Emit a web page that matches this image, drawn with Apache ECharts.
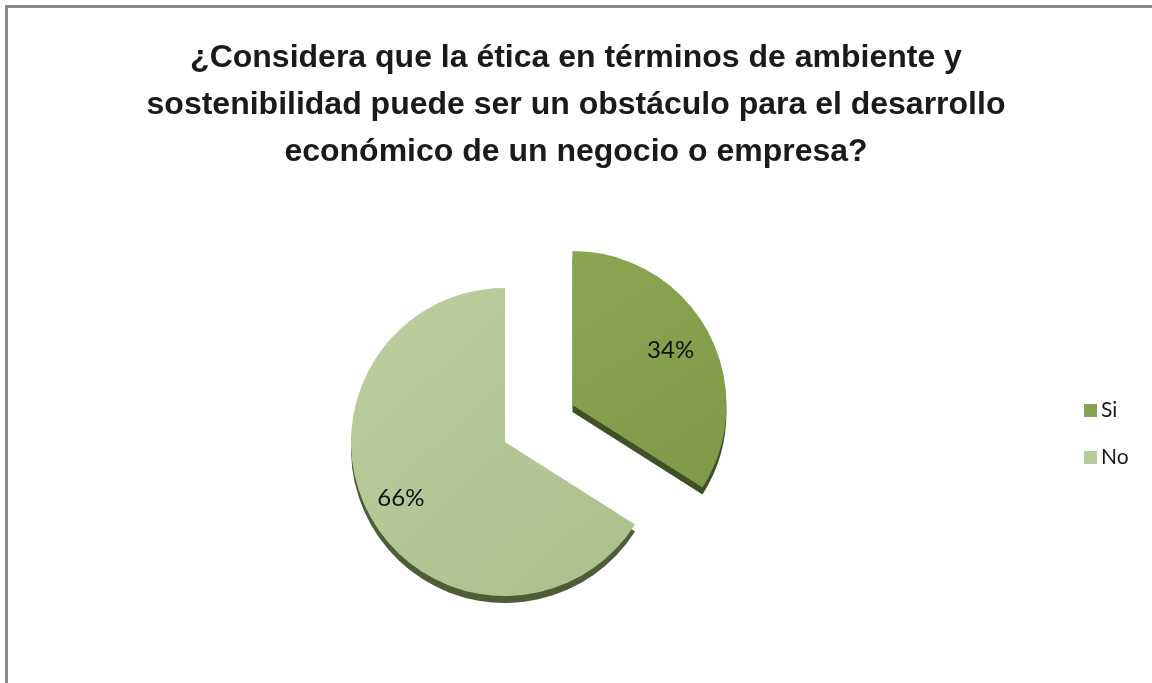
<!DOCTYPE html>
<html>
<head>
<meta charset="utf-8">
<script src="https://cdn.jsdelivr.net/npm/echarts@6/dist/echarts.min.js"></script>
<style>
  html, body { margin: 0; padding: 0; background: #ffffff; }
  #chart { width: 1152px; height: 683px; }
</style>
</head>
<body>
<div id="chart"></div>
<script>
// ---- data ----
const titleText = '¿Considera que la ética en términos de ambiente y\nsostenibilidad puede ser un obstáculo para el desarrollo\neconómico de un negocio o empresa?';
const categories = ['Si', 'No'];
const values = [34, 66];
const explodedCategory = 'Si';

// ---- styles ----
const topColors = {
  Si: { type: 'linear', x: 0, y: 0, x2: 1, y2: 1, colorStops: [{ offset: 0, color: '#8AA653' }, { offset: 1, color: '#7E9A47' }] },
  No: { type: 'linear', x: 0, y: 0, x2: 1, y2: 1, colorStops: [{ offset: 0, color: '#BCCE9E' }, { offset: 1, color: '#ABC08B' }] }
};
const edgeColors = { Si: '#3F5024', No: '#4E5C37' };
const legendColors = { Si: '#87A24F', No: '#B7CB98' };

const R = 154;
const CX = 505, CY = 442;
const OFFSET = 77;
const SHIFT = 7;

function makeData(colorMap) {
  return categories.map((c, i) => ({
    name: c,
    value: values[i],
    selected: c === explodedCategory,
    itemStyle: { color: colorMap ? colorMap[c] : 'rgba(0,0,0,0)' }
  }));
}

const chart = echarts.init(document.getElementById('chart'), null, { renderer: 'canvas' });
chart.setOption({
  animation: false,
  backgroundColor: '#ffffff',
  title: {
    text: titleText,
    left: 'center',
    top: 30,
    textStyle: {
      fontFamily: 'Liberation Sans',
      fontWeight: 'bold',
      fontSize: 32,
      lineHeight: 47,
      color: '#1a1a1a'
    }
  },
  legend: {
    orient: 'vertical',
    left: 1079,
    top: 395,
    itemWidth: 13,
    itemHeight: 13,
    itemGap: 26,
    icon: 'rect',
    selectedMode: false,
    textStyle: { fontFamily: 'Lato', fontSize: 21, color: '#1a1a1a', padding: [0, 0, 0, -1] },
    data: categories.map(c => ({ name: c, itemStyle: { color: legendColors[c] } }))
  },
  graphic: [
    { type: 'line', shape: { x1: 6.5, y1: 6.5, x2: 1152, y2: 6.5 }, style: { stroke: '#898989', lineWidth: 3 }, silent: true },
    { type: 'line', shape: { x1: 6.5, y1: 5, x2: 6.5, y2: 683 }, style: { stroke: '#898989', lineWidth: 3 }, silent: true }
  ],
  series: [
    {
      name: 'main',
      type: 'pie',
      z: 3,
      center: [CX, CY],
      radius: [0, R],
      startAngle: 90,
      clockwise: true,
      selectedMode: 'single',
      selectedOffset: OFFSET,
      silent: true,
      label: { show: false },
      labelLine: { show: false },
      emphasis: { disabled: true },
      data: makeData(topColors)
    },
    {
      name: 'edge',
      type: 'pie',
      z: 2,
      center: [CX, CY + SHIFT],
      radius: [0, R],
      startAngle: 90,
      clockwise: true,
      selectedMode: 'single',
      selectedOffset: OFFSET,
      silent: true,
      label: { show: false },
      labelLine: { show: false },
      emphasis: { disabled: true },
      data: makeData(edgeColors)
    },
    {
      name: 'labels',
      type: 'pie',
      z: 4,
      center: [CX - 3, CY + 1],
      radius: [R * 0.48, R * 0.98],
      startAngle: 90,
      clockwise: true,
      selectedMode: 'single',
      selectedOffset: OFFSET,
      silent: true,
      label: {
        show: true,
        position: 'inside',
        formatter: '{d}%',
        fontFamily: 'Lato',
        fontSize: 24,
        color: '#111111'
      },
      labelLine: { show: false },
      emphasis: { disabled: true },
      data: makeData(null)
    }
  ]
});
</script>
</body>
</html>
